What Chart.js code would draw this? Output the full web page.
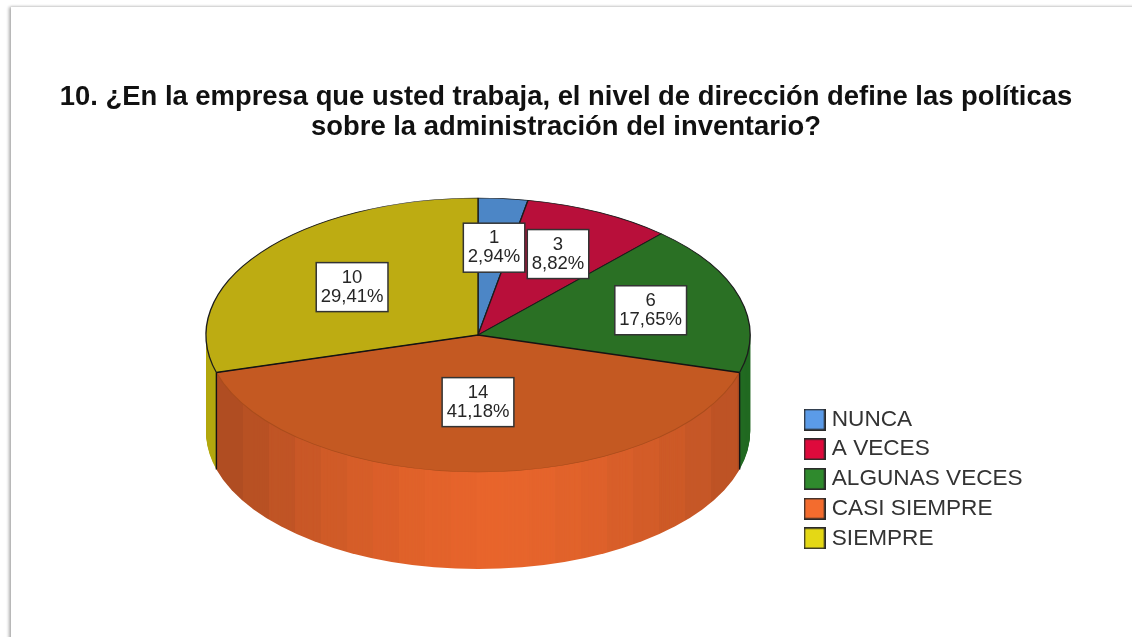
<!DOCTYPE html>
<html>
<head>
<meta charset="utf-8">
<style>
  html, body { margin: 0; padding: 0; width: 1132px; height: 637px; overflow: hidden; background: #fff; }
  #frame { position: absolute; left: 11px; top: 7px; right: -10px; bottom: -10px; background: #fff;
           box-shadow: 0 -1px 2px rgba(0,0,0,.06), -2px 0 3px rgba(0,0,0,.32); }
  canvas { position: absolute; left: 0; top: 0; filter: blur(0.45px); }
</style>
<script src="https://cdn.jsdelivr.net/npm/chart.js@4"></script>
</head>
<body>
<div id="frame"></div>
<canvas id="c" width="1132" height="637"></canvas>
<script>
const titleLines = ['10. ¿En la empresa que usted trabaja, el nivel de dirección define las políticas',
                    'sobre la administración del inventario?'];
const categories = ['NUNCA', 'A VECES', 'ALGUNAS VECES', 'CASI SIEMPRE', 'SIEMPRE'];
const counts = [1, 3, 6, 14, 10];
const topColors = ['#4C86C6', '#B80F3A', '#2A7024', '#C45922', '#BDAC12'];
const sideColors = ['#4C86C6', '#B80F3A', '#226A22', '#E8652C', '#B3A80F'];
const legendColors = ['#5B9BE8', '#DE0A3C', '#2F8A2D', '#F36C2E', '#E4D815'];
const borderColors = ['#1c1c1c', '#1c1c1c', '#1c1c1c', '#A94C1C', '#1c1c1c'];
const labelReach = [0.64, 0.66, 0.66, 0.49, 0.58];

const PIE = { cx: 478, cy: 335, rx: 272, ry: 137, depth: 97 };
const total = counts.reduce((a, b) => a + b, 0);
const pctText = v => (v / total * 100).toFixed(2).replace('.', ',') + '%';

function swatch(color) {
  const s = document.createElement('canvas');
  s.width = 22; s.height = 22;
  const g = s.getContext('2d');
  g.fillStyle = color; g.fillRect(0, 0, 22, 22);
  g.strokeStyle = '#2a2a2a'; g.lineWidth = 1.6; g.strokeRect(0.8, 0.8, 20.4, 20.4);
  return s;
}

function pieTransform(ctx, el, dy) {
  const R = el.outerRadius;
  ctx.translate(PIE.cx, PIE.cy + dy);
  ctx.scale(PIE.rx / R, PIE.ry / R);
  ctx.translate(-el.x, -el.y);
}

const pie3d = {
  id: 'pie3d',
  beforeDraw(chart) {
    const l = chart.legend;
    const w = l.width, h = l.height;
    l.left = 801.4; l.right = l.left + w;
    l.top = 401.1; l.bottom = l.top + h;
  },
  beforeDatasetsDraw(chart) {
    const ctx = chart.ctx;
    const els = chart.getDatasetMeta(0).data;
    ctx.save();
    for (let d = PIE.depth; d >= 1; d--) {
      els.forEach((el, i) => {
        ctx.save();
        pieTransform(ctx, el, d);
        const side = Object.create(el, { options: { value: Object.assign({}, el.options, { backgroundColor: sideColors[i], borderWidth: 0 }) } });
        el.draw.call(side, ctx);
        ctx.restore();
      });
    }
    // shading bands on the front slice's rim, brightest at the front
    ctx.globalCompositeOperation = 'source-atop';
    const band = 26;
    const left = PIE.cx - PIE.rx + 11, right = PIE.cx + PIE.rx - 11;
    for (let x = left; x < right; x += band) {
      const t = Math.abs(x + band / 2 - (PIE.cx + 20)) / PIE.rx;
      ctx.fillStyle = 'rgba(40,20,10,' + (0.30 * Math.pow(Math.min(t, 1), 1.7)).toFixed(3) + ')';
      ctx.fillRect(x, PIE.cy, Math.min(band, right - x), 250);
    }
    ctx.restore();
    ctx.save();
    pieTransform(ctx, els[0], 0);
  },
  afterDatasetsDraw(chart) {
    const ctx = chart.ctx;
    ctx.restore();
    const els = chart.getDatasetMeta(0).data;
    const edge = a => [PIE.cx + Math.cos(a) * PIE.rx, PIE.cy + Math.sin(a) * PIE.ry];
    // dark edges of the front slice and its two vertical cuts
    const front = els[3];
    const a = edge(front.startAngle), b = edge(front.endAngle);
    ctx.save();
    ctx.strokeStyle = '#141414';
    ctx.lineWidth = 1.4;
    ctx.beginPath();
    ctx.moveTo(a[0], a[1]); ctx.lineTo(PIE.cx, PIE.cy); ctx.lineTo(b[0], b[1]);
    ctx.moveTo(a[0], a[1]); ctx.lineTo(a[0], a[1] + PIE.depth);
    ctx.moveTo(b[0], b[1]); ctx.lineTo(b[0], b[1] + PIE.depth);
    ctx.stroke();
    ctx.restore();
    // value boxes
    ctx.save();
    ctx.font = '18.5px "Liberation Sans", Arial, sans-serif';
    ctx.textAlign = 'center';
    ctx.textBaseline = 'middle';
    els.forEach((el, i) => {
      const mid = (el.startAngle + el.endAngle) / 2;
      const x = PIE.cx + Math.cos(mid) * PIE.rx * labelReach[i];
      const y = PIE.cy + Math.sin(mid) * PIE.ry * labelReach[i];
      const line1 = String(counts[i]), line2 = pctText(counts[i]);
      const w = ctx.measureText(line2).width + 9, h = 49;
      ctx.fillStyle = '#fff';
      ctx.fillRect(x - w / 2, y - h / 2, w, h);
      ctx.strokeStyle = '#333';
      ctx.lineWidth = 1.5;
      ctx.strokeRect(x - w / 2, y - h / 2, w, h);
      ctx.fillStyle = '#262626';
      ctx.fillText(line1, x, y - 9.5);
      ctx.fillText(line2, x, y + 9.5);
    });
    ctx.restore();
  }
};

new Chart(document.getElementById('c'), {
  type: 'pie',
  data: {
    labels: categories,
    datasets: [{
      data: counts,
      backgroundColor: topColors,
      borderColor: borderColors,
      borderWidth: 1.2,
      clip: false
    }]
  },
  plugins: [pie3d],
  options: {
    responsive: false,
    animation: false,
    layout: { padding: 0 },
    plugins: {
      tooltip: { enabled: false },
      title: {
        display: true,
        text: titleLines,
        color: '#111',
        font: { family: '"Liberation Sans", Arial, sans-serif', size: 27.4, weight: 'bold', lineHeight: 1.07 },
        padding: { top: 83, bottom: 10 }
      },
      legend: {
        display: true,
        position: 'right',
        align: 'start',
        labels: {
          usePointStyle: true,
          pointStyleWidth: 12,
          boxHeight: 22,
          padding: 7.1,
          color: '#333',
          font: { family: '"Liberation Sans", Arial, sans-serif', size: 22.6 },
          generateLabels: () => categories.map((t, i) => ({
            text: t, index: i, hidden: false, fontColor: '#333',
            pointStyle: swatch(legendColors[i])
          }))
        }
      }
    }
  }
});
</script>
</body>
</html>
